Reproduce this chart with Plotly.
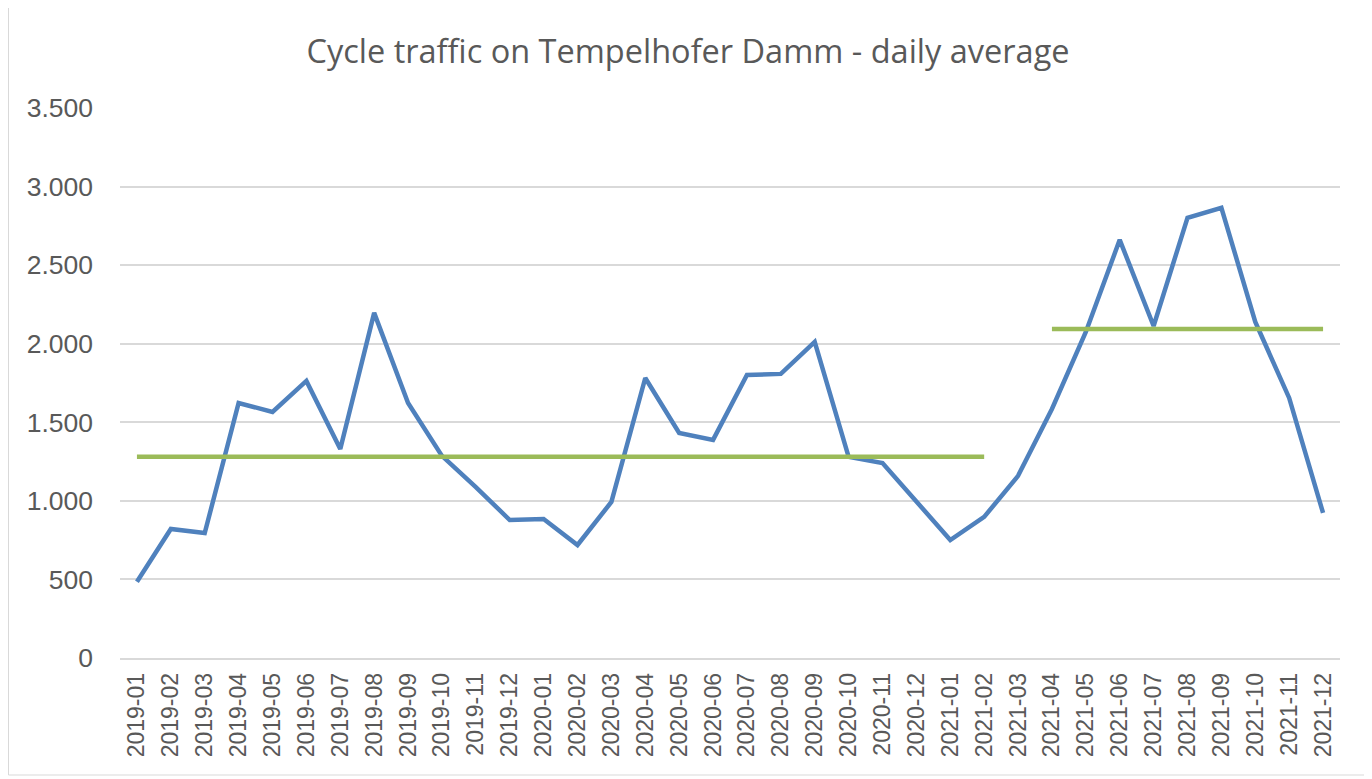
import plotly.graph_objects as go

months = [f"{y}-{m:02d}" for y in (2019, 2020, 2021) for m in range(1, 13)]
traffic = [485, 821, 795, 1623, 1566, 1763, 1330, 2196, 1623, 1286, 1088, 878,
           885, 719, 993, 1782, 1432, 1388, 1801, 1808, 2012, 1280, 1241, 993,
           751, 898, 1159, 1585, 2075, 2661, 2113, 2801, 2865, 2139, 1655, 923]
avg1_months = ["2019-01", "2021-02"]
avg1_value = 1280
avg2_months = ["2021-04", "2021-12"]
avg2_value = 2094

OFF = 8  # page body margin
W, H = 1372 - OFF, 779 - OFF
L, R, T = 120 - OFF, 32, 108 - OFF
B = H - T - 550

fig = go.Figure()
fig.add_trace(go.Scatter(x=months, y=traffic, mode="lines",
                         line=dict(color="#4f81bd", width=4.5, shape="linear"),
                         showlegend=False))
fig.add_trace(go.Scatter(x=avg1_months, y=[avg1_value] * 2, mode="lines",
                         line=dict(color="#9bbb59", width=4.5), showlegend=False))
fig.add_trace(go.Scatter(x=avg2_months, y=[avg2_value] * 2, mode="lines",
                         line=dict(color="#9bbb59", width=4.5), showlegend=False))

pw = W - L - R
ph = H - T - B
fig.add_shape(type="rect", xref="paper", yref="paper",
              x0=(0.5 - L) / pw, x1=(1361 - L) / pw,
              y0=(H - B - 767) / ph, y1=(H - B + 0.5) / ph,
              line=dict(color="#d9d9d9", width=1), layer="below")

fig.update_layout(
    width=W, height=H,
    margin=dict(l=L, r=R, t=T, b=B),
    paper_bgcolor="white", plot_bgcolor="white",
    separators=",.",
    title=dict(text="Cycle traffic on Tempelhofer Damm - daily average",
               x=(688 - OFF) / W, xanchor="center", y=1 - (52 - OFF) / H, yanchor="middle",
               font=dict(family="Open Sans", size=32.5, color="#595959")),
    xaxis=dict(type="category", categoryorder="array", categoryarray=months,
               range=[-0.5, 35.5], tickangle=-90, showgrid=False,
               showline=True, linecolor="#d9d9d9", linewidth=1.5,
               ticks="", ticklabelstandoff=4,
               tickfont=dict(family="Liberation Sans", size=23, color="#595959")),
    yaxis=dict(range=[0, 3500], dtick=500, tickformat=",d", showgrid=True,
               gridcolor="#d9d9d9", gridwidth=1.5, zeroline=False, showline=False,
               ticks="", ticklen=0, ticklabelstandoff=26,
               tickfont=dict(family="Liberation Sans", size=26.5, color="#595959")),
)
fig.write_html("out.html")
